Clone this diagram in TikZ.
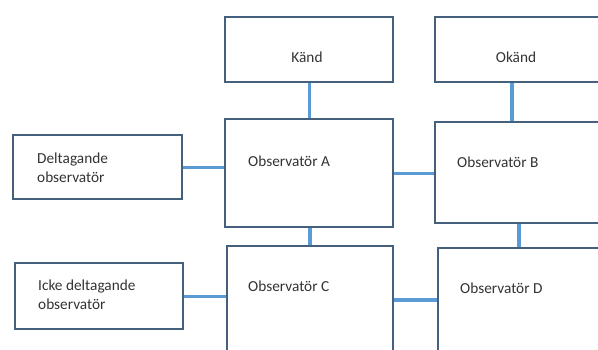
\documentclass[tikz,border=0pt]{standalone}
\usepackage{fontspec}
\setmainfont{Carlito}
\usetikzlibrary{calc,positioning}

\definecolor{boxline}{HTML}{44607D}
\definecolor{connline}{HTML}{5B9BD5}
\definecolor{labeltext}{HTML}{333333}

\tikzset{
  box/.style={draw=boxline,line width=2.4pt,rectangle,anchor=north west,inner sep=0pt},
  conn/.style={connline,line width=3.4pt},
  lbl/.style={text=labeltext,font=\fontsize{15.3}{19}\selectfont,align=left,inner sep=0pt}
}

\begin{document}
\begin{tikzpicture}[x=1pt,y=-1pt]
  \useasboundingbox (0,0) rectangle (598,349);
  \path[clip] (0,0) rectangle (598,349);

  \node[box,minimum width=168,minimum height=65] (kand) at (224,16) {};
  \node[box,minimum width=200,minimum height=65] (okand) at (434,16) {};
  \node[box,minimum width=168,minimum height=108] (obsA) at (224,118) {};
  \node[box,minimum width=200,minimum height=101] (obsB) at (434,121) {};
  \node[box,minimum width=169,minimum height=64] (delt) at (12,134) {};
  \node[box,minimum width=166,minimum height=140] (obsC) at (226,245) {};
  \node[box,minimum width=200,minimum height=140] (obsD) at (437,247) {};
  \node[box,minimum width=168,minimum height=66] (icke) at (14,262) {};

  \node[lbl] at (307,57) {Känd};
  \node[lbl] at (516,57) {Okänd};
  \node[lbl,anchor=west] at (248,161) {Observatör A};
  \node[lbl,anchor=west] at (457,162) {Observatör B};
  \node[lbl,anchor=west] at (248,286) {Observatör C};
  \node[lbl,anchor=west] at (460,288) {Observatör D};
  \node[lbl,anchor=west] at (37,168) {Deltagande\\observatör};
  \node[lbl,anchor=west] at (38,295) {Icke deltagande\\observatör};

  \draw[conn] (kand.south) -- (kand.south |- obsA.north);
  \draw[conn] ($(okand.south west)+(78,0)$) coordinate (ok) -- (ok |- obsB.north);
  \draw[conn] (obsA.east) -- (obsA.east -| obsB.west);
  \draw[conn] (delt.east) -- (delt.east -| obsA.west);
  \draw[conn] ($(obsA.south west)+(86,0)$) coordinate (ac) -- (ac |- obsC.north);
  \draw[conn] ($(obsB.south west)+(85,0)$) coordinate (bd) -- (bd |- obsD.north);
  \draw[conn] (icke.east) -- (icke.east -| obsC.west);
  \draw[conn] ($(obsC.north east)+(0,55)$) coordinate (cd) -- (cd -| obsD.west);
\end{tikzpicture}
\end{document}
